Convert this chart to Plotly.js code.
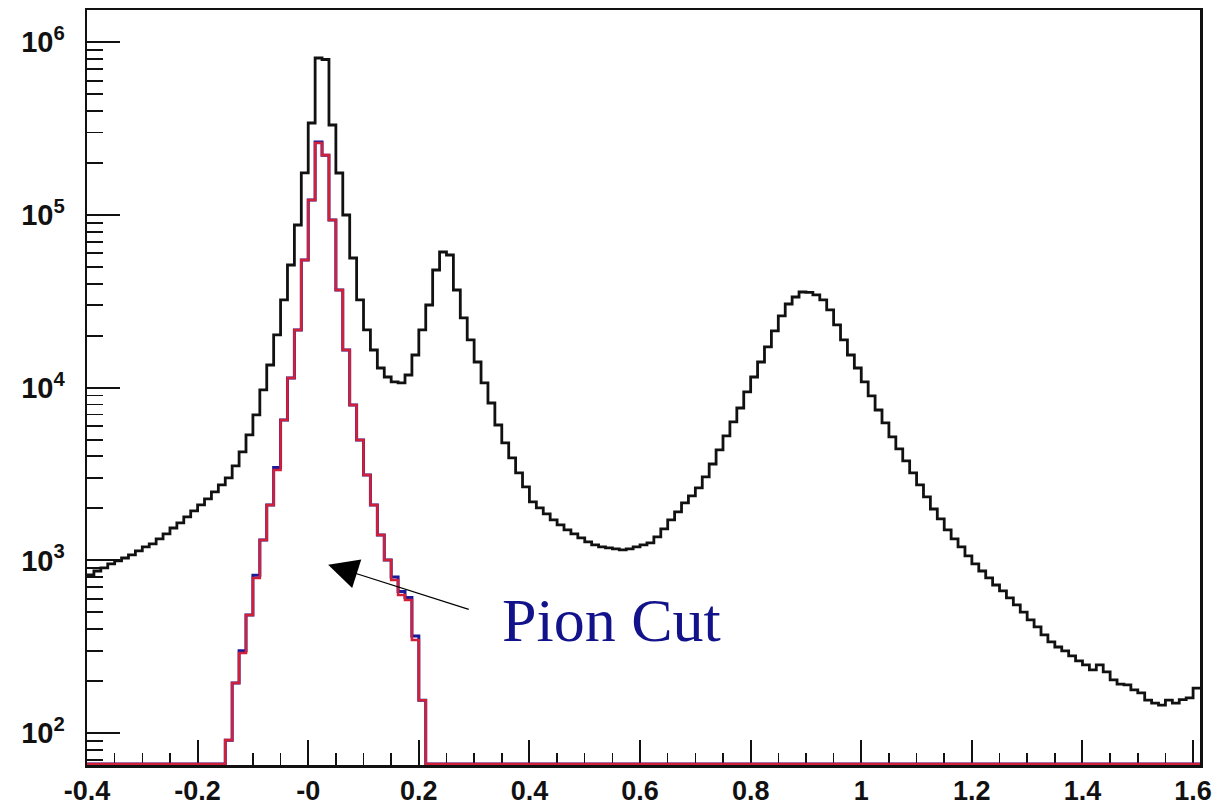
<!DOCTYPE html>
<html>
<head>
<meta charset="utf-8">
<script src="https://cdn.plot.ly/plotly-3.0.1.min.js"></script>
<style>html,body{margin:0;padding:0;background:#fff;}#chart{width:1223px;height:806px;}</style>
</head>
<body>
<div id="chart"></div>
<script>
// ---- histogram binning (x axis quantity) ----
const binLow = -0.4;
const binWidth = 0.0125;

// ---- all events (black histogram), counts per bin, 161 bins ----
const allCounts = [
  823, 868, 904, 953, 992, 1032, 1075, 1134, 1196, 1245,
  1330, 1422, 1540, 1647, 1784, 1932, 2094, 2268, 2489, 2733,
  3000, 3521, 4243, 5323, 6950, 9698, 13530, 20200, 32200, 51340,
  87500, 175100, 341000, 811000, 795000, 332000, 175000, 100000, 56360, 32200,
  21590, 16530, 13000, 11530, 10790, 10650, 11840, 15460, 21590, 30120,
  48030, 61060, 58660, 36790, 25330, 18890, 14080, 10650, 8154, 6081,
  4784, 3917, 3207, 2661, 2179, 2011, 1857, 1714, 1603, 1500,
  1422, 1348, 1278, 1228, 1196, 1180, 1164, 1149, 1164, 1196,
  1228, 1261, 1366, 1520, 1714, 1907, 2150, 2360, 2626, 3041,
  3615, 4358, 5253, 6330, 7628, 9443, 11530, 14080, 17210, 21300,
  26020, 30520, 33500, 35820, 35600, 34420, 32200, 28180, 23080, 18890,
  15460, 13000, 10790, 8953, 7427, 6246, 5183, 4416, 3763, 3207,
  2733, 2329, 1984, 1737, 1500, 1330, 1196, 1061, 953, 868,
  791, 720, 665, 606, 552, 502, 452, 412, 370, 337,
  315, 299, 280, 262, 248, 232, 248, 226, 203, 192,
  190, 178, 171, 155, 149, 145, 155, 149, 156, 160,
  182
];

// ---- pion cut selection (red and blue histograms) ----
const pionFirstBin = 20;
const pionCountsRed = [
  91, 195, 291, 483, 791, 1313, 2094, 3337, 6500, 11380,
  21590, 54870, 122100, 261200, 222000, 93500, 36790, 16530, 7943, 4977,
  3123, 2094, 1403, 1005, 770, 630, 590, 346, 155
];
const pionCountsBlue = [
  91, 195, 300, 483, 820, 1313, 2094, 3450, 6500, 11380,
  21590, 54870, 122100, 265000, 222000, 93500, 36790, 16530, 7943, 4977,
  3123, 2094, 1403, 1005, 800, 660, 610, 365, 155
];

// ---- tick labels ----
const xTickVals = [-0.4, -0.2, 0, 0.2, 0.4, 0.6, 0.8, 1, 1.2, 1.4, 1.6];
const xTickText = ['-0.4', '-0.2', '-0', '0.2', '0.4', '0.6', '0.8', '1', '1.2', '1.4', '1.6'];
const yTickVals = [1e2, 1e3, 1e4, 1e5, 1e6];
const yTickText = ['10<sup>2</sup>', '10<sup>3</sup>', '10<sup>4</sup>', '10<sup>5</sup>', '10<sup>6</sup>'];
const annotationText = 'Pion Cut';

// ---- layout helpers ----
const nBins = allCounts.length;
const xRange = [binLow, binLow + nBins * binWidth];
const yLogRange = [1.815, 6.187];
const yFloor = Math.pow(10, yLogRange[0] + 0.006); // empty bins are drawn on the frame bottom (ROOT style)

function fullBins(first, counts) {
  const arr = new Array(nBins).fill(0);
  counts.forEach((c, i) => { arr[first + i] = c; });
  return arr;
}
function stepTrace(counts, color, width) {
  const xs = [], ys = [];
  for (let k = 0; k < counts.length; k++) {
    xs.push(binLow + k * binWidth);
    ys.push(counts[k] > 0 ? counts[k] : yFloor);
  }
  xs.push(binLow + counts.length * binWidth);
  ys.push(counts[counts.length - 1] > 0 ? counts[counts.length - 1] : yFloor);
  return {
    type: 'scatter', mode: 'lines', x: xs, y: ys,
    line: { shape: 'hv', color: color, width: width },
    hoverinfo: 'skip', showlegend: false
  };
}

const minorY = [];
for (let e = 1; e <= 6; e++) for (let d = 2; d <= 9; d++) minorY.push(d * Math.pow(10, e));

const traces = [
  stepTrace(allCounts, '#111111', 2.8),
  stepTrace(fullBins(pionFirstBin, pionCountsBlue), '#1a1a9a', 3),
  stepTrace(fullBins(pionFirstBin, pionCountsRed), '#d0203a', 2.6)
];

const yTickFont = { family: 'Liberation Sans, Arial, sans-serif', size: 29, color: '#111', weight: 'bold' };
const xTickFont = { family: 'Liberation Sans, Arial, sans-serif', size: 27, color: '#111', weight: 'bold' };

const layout = {
  width: 1223, height: 806,
  margin: { l: 87, r: 23, t: 10, b: 41, pad: 0 },
  paper_bgcolor: '#ffffff', plot_bgcolor: '#ffffff',
  showlegend: false,
  xaxis: {
    range: xRange, showgrid: false, zeroline: false,
    showline: true, linecolor: '#111', linewidth: 2.5, mirror: true,
    ticks: 'inside', ticklen: 25, tickwidth: 2, tickcolor: '#111',
    tickvals: xTickVals, ticktext: xTickText, tickfont: xTickFont,
    minor: { ticks: 'inside', dtick: 0.05, tick0: -0.4, ticklen: 12, tickwidth: 1.5, tickcolor: '#111', showgrid: false },
    layer: 'below traces'
  },
  yaxis: {
    type: 'log', range: yLogRange, showgrid: false, zeroline: false,
    showline: true, linecolor: '#111', linewidth: 2.5, mirror: true,
    ticks: 'inside', ticklen: 33, tickwidth: 2, tickcolor: '#111',
    tickvals: yTickVals, ticktext: yTickText, tickfont: yTickFont,
    ticklabelstandoff: 14,
    minor: { ticks: 'inside', tickvals: minorY, ticklen: 16, tickwidth: 1.8, tickcolor: '#111', showgrid: false }
  },
  annotations: [
    {
      xref: 'x', yref: 'y', axref: 'x', ayref: 'y',
      x: 0.036, y: 2.975, ax: 0.293, ay: 2.713,
      text: '', showarrow: true, arrowhead: 2, arrowsize: 5, arrowwidth: 1.2, arrowcolor: '#000'
    },
    {
      xref: 'x', yref: 'y', x: 0.549, y: 2.655, text: annotationText, showarrow: false,
      xanchor: 'center', yanchor: 'middle',
      font: { family: 'Liberation Serif, Times New Roman, serif', size: 62, color: '#12128a' }
    }
  ]
};

Plotly.newPlot('chart', traces, layout, { staticPlot: true, displayModeBar: false });
</script>
</body>
</html>
